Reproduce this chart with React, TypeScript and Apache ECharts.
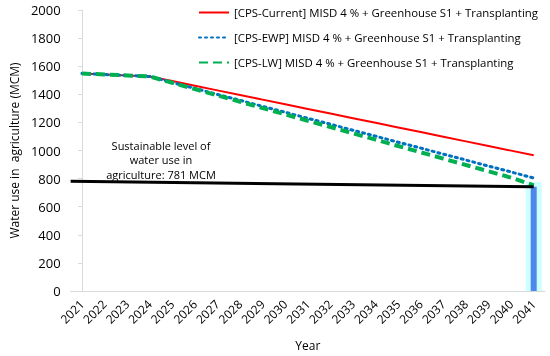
import React, { useEffect, useRef } from "react";
import * as echarts from "echarts";

const years = ["2021","2022","2023","2024","2025","2026","2027","2028","2029","2030","2031","2032","2033","2034","2035","2036","2037","2038","2039","2040","2041"];
const cpsCurrent = [1548,1541,1534,1527,1494,1461,1428,1395,1362,1329,1296,1263,1230,1197,1164,1131,1098,1065,1032,999,966];
const cpsEWP = [1548,1541,1534,1527,1484,1442,1399,1357,1314,1272,1229,1187,1144,1102,1059,1017,974,932,889,847,804];
const cpsLW = [1548,1541,1534,1527,1482,1437,1392,1347,1302,1257,1212,1167,1122,1077,1032,987,942,897,852,807,752];
const sustainableLine = [[-0.5, 781], [20, 742]];
const barValues = [null,null,null,null,null,null,null,null,null,null,null,null,null,null,null,null,null,null,null,null,742];
const highlightValues = [null,null,null,null,null,null,null,null,null,null,null,null,null,null,null,null,null,null,null,null,775];
const yTicks = { min: 0, max: 2000, interval: 200 };

const nameCurrent = "[CPS-Current] MISD 4 % + Greenhouse S1 + Transplanting";
const nameEWP = "[CPS-EWP] MISD 4 % + Greenhouse S1 + Transplanting";
const nameLW = "[CPS-LW] MISD 4 % + Greenhouse S1 + Transplanting";

const FONT = "Open Sans";

export default function App() {
  const ref = useRef<HTMLDivElement>(null);
  useEffect(() => {
    const chart = echarts.init(ref.current!, null, { renderer: "svg" });
    chart.setOption({
      animation: false,
      textStyle: { fontFamily: FONT },
      grid: { left: 59, right: 5, top: 10, bottom: 61, containLabel: false },
      legend: {
        data: [nameCurrent, nameEWP, nameLW],
        orient: "vertical",
        left: 193,
        top: 2,
        itemWidth: 30,
        itemHeight: 12,
        itemGap: 14,
        itemStyle: { opacity: 0 },
        textStyle: { fontFamily: FONT, fontSize: 11.4, color: "#000" },
      },
      xAxis: [
        {
          type: "category",
          data: years,
          boundaryGap: true,
          axisLine: { lineStyle: { color: "#d9d9d9" } },
          axisTick: { show: false },
          axisLabel: { rotate: 45, fontFamily: FONT, fontSize: 12, color: "#000", interval: 0, margin: 11 },
          name: "Year",
          nameLocation: "middle",
          nameGap: 48,
          nameTextStyle: { fontFamily: FONT, fontSize: 12, color: "#000" },
        },
        { type: "category", data: years, show: false, boundaryGap: true },
        { type: "value", min: -0.5, max: 20.5, show: false },
      ],
      yAxis: {
        type: "value",
        min: yTicks.min,
        max: yTicks.max,
        interval: yTicks.interval,
        splitLine: { show: false },
        axisLine: { show: true, lineStyle: { color: "#d9d9d9" } },
        axisTick: { show: true, length: 4, lineStyle: { color: "#d9d9d9" } },
        axisLabel: { fontFamily: FONT, fontSize: 13, color: "#000", margin: 10, formatter: (v: number) => String(v) },
        name: "Water use in  agriculture (MCM)",
        nameLocation: "middle",
        nameGap: 46,
        nameTextStyle: { fontFamily: FONT, fontSize: 12, color: "#000" },
      },
      series: [
        {
          type: "bar",
          xAxisIndex: 1,
          data: highlightValues,
          barWidth: 16,
          itemStyle: { color: "#ccffff" },
          silent: true,
          z: 1,
        },
        {
          type: "bar",
          xAxisIndex: 0,
          data: barValues,
          barWidth: 6,
          itemStyle: { color: "#4f86ec" },
          z: 2,
        },
        {
          name: nameCurrent,
          type: "line",
          data: cpsCurrent,
          symbol: "none",
          lineStyle: { color: "#ff0000", width: 2 },
          itemStyle: { color: "#ff0000" },
          z: 3,
        },
        {
          name: nameEWP,
          type: "line",
          data: cpsEWP,
          symbol: "none",
          lineStyle: { color: "#0070c0", width: 3, type: [2, 4], cap: "round" },
          itemStyle: { color: "#0070c0" },
          z: 4,
        },
        {
          name: nameLW,
          type: "line",
          data: cpsLW,
          symbol: "none",
          lineStyle: { color: "#00b050", width: 4, type: [9, 5] },
          itemStyle: { color: "#00b050" },
          z: 5,
        },
        {
          type: "line",
          xAxisIndex: 2,
          data: sustainableLine,
          symbol: "none",
          lineStyle: { color: "#000", width: 3 },
          z: 6,
        },
      ],
      graphic: [
        {
          type: "text",
          x: 161,
          y: 138,
          style: {
            text: "Sustainable level of\nwater use in\nagriculture: 781 MCM",
            fontFamily: FONT,
            fontSize: 11,
            lineHeight: 14.5,
            fill: "#000",
            align: "center",
            verticalAlign: "top",
          },
        },
      ],
    });
    return () => chart.dispose();
  }, []);
  return <div ref={ref} style={{ position: "fixed", left: 0, top: 0, width: 550, height: 356 }} />;
}
